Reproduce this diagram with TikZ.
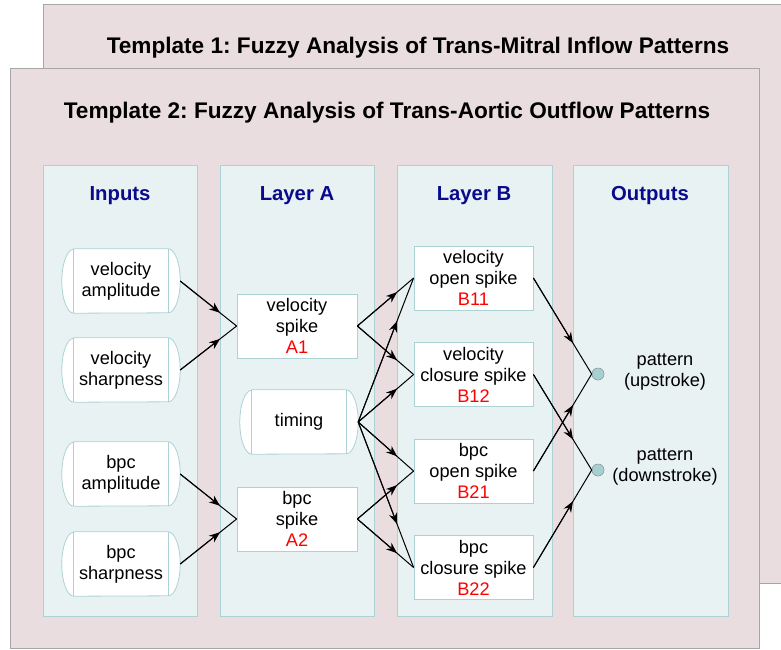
\documentclass[tikz,border=0pt]{standalone}
\usepackage{fontspec}
\setmainfont{Liberation Sans}
\usetikzlibrary{arrows.meta,intersections,calc}
\frenchspacing
\definecolor{panelfill}{HTML}{EADDE0}
\definecolor{panelline}{HTML}{A6A6A6}
\definecolor{colfill}{HTML}{E8F2F2}
\definecolor{colline}{HTML}{ACD2D6}
\definecolor{headblue}{HTML}{0A0A8C}
\definecolor{dotfill}{HTML}{A8D0D2}
\definecolor{dotline}{HTML}{8A9A9C}
\definecolor{labred}{HTML}{FF0000}
\tikzset{
  panel/.style={fill=panelfill,draw=panelline,line width=1pt},
  column/.style={fill=colfill,draw=colline,line width=1pt},
  title/.style={font=\fontsize{22.6}{26}\selectfont\bfseries,text=black},
  header/.style={font=\fontsize{20.3}{23}\selectfont\bfseries,text=headblue},
  box/.style={rectangle,fill=white,draw=colline,line width=0.8pt,minimum width=120pt,minimum height=64pt,inner sep=0pt,align=center,font=\fontsize{18.2}{21}\selectfont},
  capin/.style={rectangle,draw=none,minimum width=94pt,minimum height=64pt,inner sep=0pt,align=center,font=\fontsize{18.2}{21}\selectfont},
  capline/.style={draw=colline,line width=0.8pt},
  outdot/.style={circle,fill=dotfill,draw=dotline,line width=0.6pt,minimum size=12pt,inner sep=0pt},
  outlab/.style={align=center,font=\fontsize{18.2}{21}\selectfont},
  wire/.style={draw=black,line width=1pt},
  wirehead/.style={-{Stealth[length=11pt,width=8.5pt]}}
}
\newcommand\capsule[3]{%
  \node[capin] (#1) at (#2) {#3};
  \path[fill=white,capline] (#1.north west) -- (#1.north east)
     arc[start angle=90,end angle=-90,x radius=12pt,y radius=32pt]
     -- (#1.south west)
     arc[start angle=270,end angle=90,x radius=12pt,y radius=32pt] -- cycle;
  \draw[capline] (#1.north west) -- (#1.south west) (#1.north east) -- (#1.south east);
  \node[capin] at (#2) {#3};
  \coordinate (#1-e) at ([xshift=12pt]#1.east);
}
\newcommand\wireto[3]{%
  \path[name path=wtmp] (#1) -- (#2);
  \draw[wire] (#1) -- (#2);
  \draw[wire,wirehead,name intersections={of=wtmp and #3}] (#1) -- (intersection-1);
}
\begin{document}
\begin{tikzpicture}[x=1pt,y=-1pt]
\clip (0,0) rectangle (781,649);
\useasboundingbox (0,0) rectangle (781,649);
% panels
\path[panel] (43,4) rectangle (800,583);
\node[title] (t1) at (418,48) {Template 1: Fuzzy Analysis of Trans-Mitral Inflow Patterns};
\path[panel] (10,68) rectangle (759,648);
\node[title] (t2) at (387,113) {Template 2: Fuzzy Analysis of Trans-Aortic Outflow Patterns};
% columns
\path[column] (43,165) rectangle (197,616);
\path[column] (220,165) rectangle (374,616);
\path[column] (397,165) rectangle (552,616);
\path[column] (573,165) rectangle (728,616);
\path[name path=bA] (220,160) -- (220,620);
\path[name path=bB] (397,160) -- (397,620);
\path[name path=bC] (573,160) -- (573,620);
\node[header] (hIn) at (120,196) {Inputs};
\node[header] (hA) at (297,196) {Layer A};
\node[header] (hB) at (474,196) {Layer B};
\node[header] (hOut) at (650,196) {Outputs};
% inputs
\capsule{va}{121,281}{velocity\\amplitude}
\capsule{vs}{121,370}{velocity\\sharpness}
\capsule{ba}{121,474}{bpc\\amplitude}
\capsule{bs}{121,564}{bpc\\sharpness}
% layer A
\node[box] (A1) at (297,326) {velocity\\spike\\\textcolor{labred}{A1}};
\capsule{tm}{299,422}{timing}
\node[box] (A2) at (297,519) {bpc\\spike\\\textcolor{labred}{A2}};
% layer B
\node[box,minimum width=119pt] (B11) at (473.5,278) {velocity\\open spike\\\textcolor{labred}{B11}};
\node[box,minimum width=119pt] (B12) at (473.5,374.5) {velocity\\closure spike\\\textcolor{labred}{B12}};
\node[box,minimum width=119pt] (B21) at (473.5,471) {bpc\\open spike\\\textcolor{labred}{B21}};
\node[box,minimum width=119pt] (B22) at (473.5,567.5) {bpc\\closure spike\\\textcolor{labred}{B22}};
% outputs
\node[outdot] (O1) at (598,374) {};
\node[outdot] (O2) at (598,470) {};
\node[outlab] (L1) at (665,372) {pattern\\(upstroke)};
\node[outlab] (L2) at (665,467) {pattern\\(downstroke)};
% wires inputs -> A
\wireto{va-e}{A1.west}{bA}
\wireto{vs-e}{A1.west}{bA}
\wireto{ba-e}{A2.west}{bA}
\wireto{bs-e}{A2.west}{bA}
% wires A -> B
\wireto{A1.east}{B11.west}{bB}
\wireto{A1.east}{B12.west}{bB}
\wireto{tm-e}{B11.west}{bB}
\wireto{tm-e}{B12.west}{bB}
\wireto{tm-e}{B21.west}{bB}
\wireto{tm-e}{B22.west}{bB}
\wireto{A2.east}{B21.west}{bB}
\wireto{A2.east}{B22.west}{bB}
% wires B -> outputs
\wireto{B11.east}{O1.west}{bC}
\wireto{B12.east}{O2.west}{bC}
\wireto{B21.east}{O1.west}{bC}
\wireto{B22.east}{O2.west}{bC}
\end{tikzpicture}
\end{document}
